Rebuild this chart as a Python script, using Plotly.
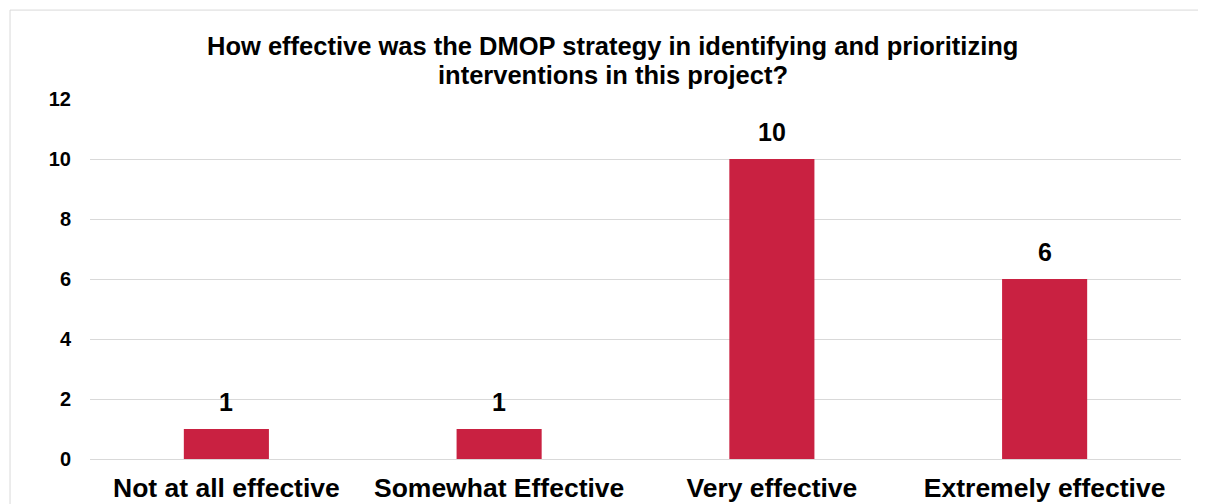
import plotly.graph_objects as go

categories = ["Not at all effective", "Somewhat Effective", "Very effective", "Extremely effective"]
counts = [1, 1, 10, 6]
y_ticks = [0, 2, 4, 6, 8, 10, 12]

title_lines = ["How effective was the DMOP strategy in identifying and prioritizing",
               "interventions in this project?"]

font_family = "Liberation Sans, Arial, sans-serif"

bar = go.Bar(
    x=categories,
    y=counts,
    marker=dict(color="#C92141", line=dict(width=0)),
    width=0.312,
)

# value labels above bars
annotations = [
    dict(x=c, y=v, xref="x", yref="y", text="<b>%d</b>" % v, showarrow=False,
         yanchor="bottom", yshift=11,
         font=dict(size=25, color="#000000", family=font_family))
    for c, v in zip(categories, counts)
]

# two-line title
for text, ypos in zip(title_lines, [1.146, 1.068]):
    annotations.append(dict(
        x=0.479, y=ypos, xref="paper", yref="paper", text="<b>%s</b>" % text,
        showarrow=False, xanchor="center", yanchor="middle",
        font=dict(size=25.5, color="#000000", family=font_family)))

layout = go.Layout(
    width=1206,
    height=504,
    margin=dict(l=82, r=33, t=91, b=53),
    paper_bgcolor="white",
    plot_bgcolor="white",
    showlegend=False,
    annotations=annotations,
    xaxis=dict(
        showgrid=False,
        showline=False,
        zeroline=False,
        ticks="",
        automargin=False,
        ticklabelstandoff=10,
        tickfont=dict(size=26.5, color="#000000", family=font_family, weight="bold"),
    ),
    yaxis=dict(
        range=[0, 12],
        tickvals=y_ticks,
        showgrid=True,
        gridcolor="#D9D9D9",
        gridwidth=1,
        zeroline=True,
        zerolinecolor="#D9D9D9",
        zerolinewidth=1,
        showline=False,
        ticks="",
        automargin=False,
        ticklabelstandoff=18,
        tickfont=dict(size=20, color="#000000", family=font_family, weight="bold"),
    ),
    shapes=[
        dict(type="rect", xref="paper", yref="paper",
             x0=-0.0733, x1=1.2, y0=-0.3, y1=1.247,
             line=dict(color="#D9D9D9", width=1), fillcolor="rgba(0,0,0,0)", layer="below"),
    ],
)

fig = go.Figure(data=[bar], layout=layout)
fig.write_html("out.html")
